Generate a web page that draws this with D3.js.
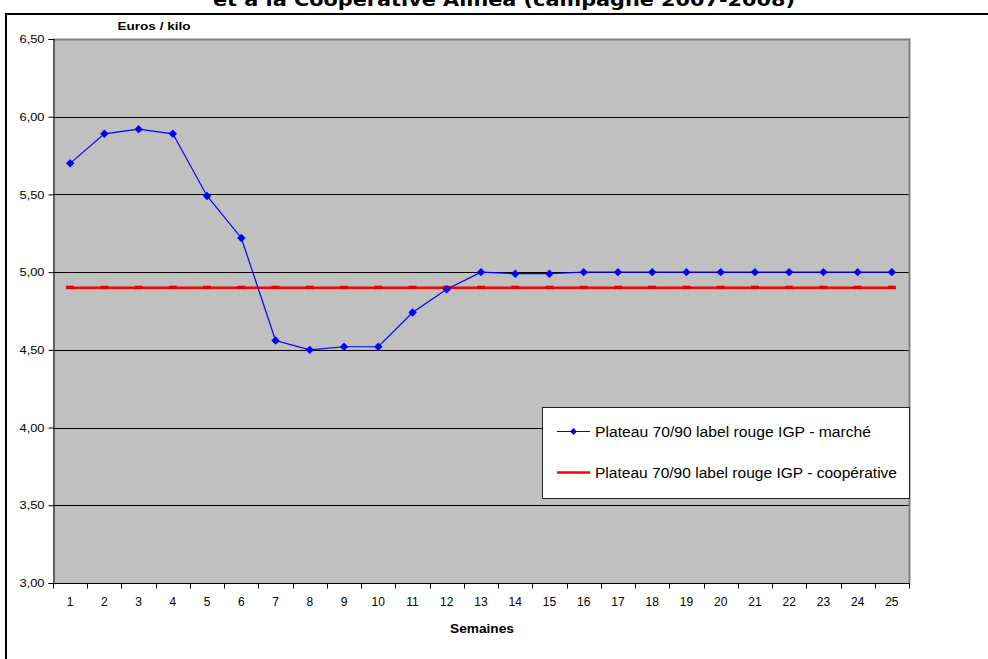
<!DOCTYPE html>
<html>
<head>
<meta charset="utf-8">
<script src="https://cdn.jsdelivr.net/npm/d3@7"></script>
<style>
  html, body { margin: 0; padding: 0; background: #ffffff; }
  svg { display: block; }
</style>
</head>
<body>
<svg id="chart" width="988" height="659"></svg>
<script>
// Weekly prices (euros / kilo), campaign 2007-2008
const weeks = d3.range(1, 26);
const marketPrices = [5.70, 5.89, 5.92, 5.89, 5.49, 5.22, 4.56, 4.50, 4.52, 4.52,
                      4.74, 4.89, 5.00, 4.99, 4.99, 5.00, 5.00, 5.00, 5.00, 5.00,
                      5.00, 5.00, 5.00, 5.00, 5.00];
const coopPrices = [4.90, 4.90, 4.90, 4.90, 4.90, 4.90, 4.90, 4.90, 4.90, 4.90,
                    4.90, 4.90, 4.90, 4.90, 4.90, 4.90, 4.90, 4.90, 4.90, 4.90,
                    4.90, 4.90, 4.90, 4.90, 4.90];
const yTicks = [3.0, 3.5, 4.0, 4.5, 5.0, 5.5, 6.0, 6.5];
const seriesNames = ["Plateau 70/90 label rouge IGP - marché",
                     "Plateau 70/90 label rouge IGP - coopérative"];
const titleText = "et à la Coopérative Alinéa (campagne 2007-2008)";
const yAxisTitle = "Euros / kilo";
const xAxisTitle = "Semaines";

const svg = d3.select("#chart");
const plot = { left: 53, right: 909, top: 39, bottom: 583 };
const FONT = "'Liberation Sans', Arial, sans-serif";

const x = d3.scaleBand().domain(weeks).range([plot.left, plot.right]).paddingInner(0).paddingOuter(0);
const cx = d => x(d) + x.bandwidth() / 2;
const y = d3.scaleLinear().domain([3, 6.5]).range([plot.bottom, plot.top]);
const fmt = v => d3.format(".2f")(v).replace(".", ",");

// Title (second line of the chart heading, running off the top edge)
svg.append("text")
  .attr("x", 504).attr("y", 6)
  .attr("text-anchor", "middle")
  .attr("font-family", "'DejaVu Sans', Verdana, sans-serif")
  .attr("font-weight", "bold")
  .attr("font-size", 17)
  .attr("textLength", 582)
  .attr("lengthAdjust", "spacingAndGlyphs")
  .text(titleText);

// Chart frame
svg.append("path")
  .attr("d", `M6,659 L6,14 L988,14`)
  .attr("fill", "none").attr("stroke", "#000").attr("stroke-width", 2);

// Plot area background
svg.append("rect")
  .attr("x", plot.left).attr("y", plot.top)
  .attr("width", plot.right - plot.left).attr("height", plot.bottom - plot.top)
  .attr("fill", "#c0c0c0");

// Gridlines
svg.append("g").selectAll("line")
  .data(yTicks.filter(t => t > 3 && t < 6.5))
  .join("line")
  .attr("x1", plot.left).attr("x2", plot.right)
  .attr("y1", d => Math.round(y(d)) + 0.5).attr("y2", d => Math.round(y(d)) + 0.5)
  .attr("stroke", "#000").attr("stroke-width", 1);

// Plot area top/right border
svg.append("path")
  .attr("d", `M${plot.left},${plot.top + 0.5} L${plot.right + 0.5},${plot.top + 0.5} L${plot.right + 0.5},${plot.bottom}`)
  .attr("fill", "none").attr("stroke", "#808080").attr("stroke-width", 2);

// Y axis
const yAxis = d3.axisLeft(y).tickValues(yTicks).tickFormat(fmt).tickSize(5).tickPadding(4);
const gy = svg.append("g")
  .attr("transform", `translate(${plot.left + 0.5},0)`)
  .call(yAxis);
gy.select(".domain").attr("stroke", "#000");
gy.selectAll(".tick line").attr("stroke", "#000");
gy.selectAll(".tick text")
  .attr("font-family", FONT).attr("font-size", 11.5).attr("fill", "#000")
  .attr("textLength", 25).attr("lengthAdjust", "spacingAndGlyphs");

// X axis: ticks on category boundaries, labels centred on categories
const gx = svg.append("g")
  .attr("transform", `translate(0,${plot.bottom + 0.5})`);
gx.append("line")
  .attr("x1", plot.left).attr("x2", plot.right + 1)
  .attr("stroke", "#000");
const boundaries = weeks.map(w => x(w)).concat([plot.right]);
gx.selectAll("line.tk").data(boundaries).join("line")
  .attr("class", "tk")
  .attr("x1", d => Math.round(d) + 0.5).attr("x2", d => Math.round(d) + 0.5)
  .attr("y1", 0).attr("y2", 5)
  .attr("stroke", "#000");
gx.selectAll("text").data(weeks).join("text")
  .attr("x", d => cx(d)).attr("y", 22)
  .attr("text-anchor", "middle")
  .attr("font-family", FONT).attr("font-size", 12).attr("fill", "#000")
  .text(d => d);

// Axis titles
svg.append("text")
  .attr("x", 154).attr("y", 30)
  .attr("text-anchor", "middle")
  .attr("font-family", FONT).attr("font-weight", "bold").attr("font-size", 11)
  .attr("textLength", 73).attr("lengthAdjust", "spacingAndGlyphs")
  .text(yAxisTitle);
svg.append("text")
  .attr("x", 482).attr("y", 633)
  .attr("text-anchor", "middle")
  .attr("font-family", FONT).attr("font-weight", "bold").attr("font-size", 12)
  .attr("textLength", 64).attr("lengthAdjust", "spacingAndGlyphs")
  .text(xAxisTitle);

// Cooperative price series (red line with dash markers)
const line = d3.line().x((d, i) => cx(weeks[i])).y(d => y(d));
svg.append("path")
  .datum(coopPrices)
  .attr("d", line)
  .attr("fill", "none").attr("stroke", "#ff0000").attr("stroke-width", 2.5);
svg.append("g").selectAll("rect")
  .data(coopPrices).join("rect")
  .attr("x", (d, i) => cx(weeks[i]) - 4).attr("y", d => y(d) - 2)
  .attr("width", 8).attr("height", 3.5)
  .attr("fill", "#ee0000");

// Market price series (blue line with diamond markers)
svg.append("path")
  .datum(marketPrices)
  .attr("d", line)
  .attr("fill", "none").attr("stroke", "#0000ff").attr("stroke-width", 1.2);
const diamond = (px, py, r) => `M${px},${py - r} L${px + r},${py} L${px},${py + r} L${px - r},${py} Z`;
svg.append("g").selectAll("path")
  .data(marketPrices).join("path")
  .attr("d", (d, i) => diamond(cx(weeks[i]), y(d), 4.2))
  .attr("fill", "#0000ff");

// Legend
const lg = svg.append("g").attr("transform", "translate(542,407)");
lg.append("rect")
  .attr("x", 0.5).attr("y", 0.5).attr("width", 367).attr("height", 91)
  .attr("fill", "#fff").attr("stroke", "#222").attr("stroke-width", 1);
lg.append("line")
  .attr("x1", 15).attr("x2", 48).attr("y1", 24.5).attr("y2", 24.5)
  .attr("stroke", "#0000ff").attr("stroke-width", 1.2);
lg.append("path").attr("d", diamond(31.5, 24.5, 3.5)).attr("fill", "#0000ff");
lg.append("line")
  .attr("x1", 15).attr("x2", 48).attr("y1", 65.5).attr("y2", 65.5)
  .attr("stroke", "#ff0000").attr("stroke-width", 2.5);
lg.selectAll("text").data(seriesNames).join("text")
  .attr("x", 53).attr("y", (d, i) => 29.5 + i * 41)
  .attr("font-family", FONT).attr("font-size", 14).attr("fill", "#000")
  .attr("textLength", (d, i) => i === 0 ? 276 : 302)
  .attr("lengthAdjust", "spacingAndGlyphs")
  .text(d => d);
</script>
</body>
</html>
